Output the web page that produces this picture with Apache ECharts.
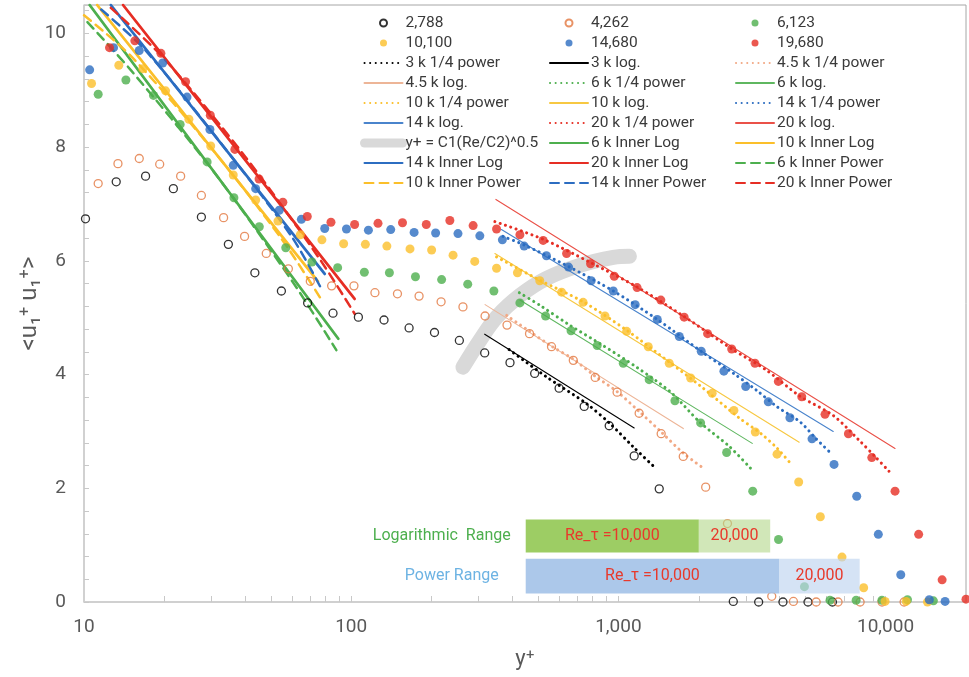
<!DOCTYPE html>
<html><head><meta charset="utf-8">
<script src="https://cdn.jsdelivr.net/npm/echarts@6/dist/echarts.min.js"></script>
<style>html,body{margin:0;padding:0;background:#fff}#c{width:969px;height:677px}</style>
</head><body><div id="c"></div>
<script>
// ---------- axis ticks ----------
const xTickLabels = [10, 100, 1000, 10000];
const xTickValues = [20,30,40,50,60,70,80,90,100,200,300,400,500,600,700,800,900,1000,2000,3000,4000,5000,6000,7000,8000,9000,10000,20000];

// ---------- data points (y+, <u1+u1+>) ----------
const re2788 = [[10.13,6.74],[13.2,7.39],[17.0,7.49],[21.6,7.27],[27.5,6.77],[34.7,6.29],[43.6,5.79],[54.8,5.47],[68.7,5.26],[85.5,5.08],[106.4,5.01],[132.7,4.96],[164.7,4.82],[205,4.74],[254,4.60],[316,4.38],[393,4.21],[486,4.02],[600,3.76],[745,3.44],[924,3.10],[1146,2.57],[1422,1.99],[2692,0.01],[3350,0],[4130,0],[5125,0],[6325,0]];
const re4262 = [[11.3,7.36],[13.4,7.71],[16.1,7.80],[19.2,7.70],[23.0,7.49],[27.5,7.15],[33.3,6.76],[39.9,6.43],[48.1,6.13],[58.2,5.86],[70.3,5.64],[84.5,5.56],[102.4,5.56],[122.7,5.44],[149,5.42],[179.5,5.38],[217,5.28],[262,5.19],[317,5.03],[383,4.87],[465,4.72],[562,4.49],[678,4.25],[819,3.95],[989,3.69],[1196,3.32],[1446,2.96],[1749,2.56],[2122,2.02],[2560,1.38],[3750,0.10],[4520,0.01],[5500,0],[6640,0],[8030,0],[9700,0],[11730,0]];
const re6123 = [[11.3,8.93],[14.35,9.18],[18.2,8.91],[22.9,8.40],[28.9,7.74],[36.4,7.11],[45.3,6.60],[56.9,6.23],[71.3,5.98],[89.0,5.88],[112,5.80],[139,5.79],[174,5.72],[218,5.67],[273,5.59],[342,5.47],[428,5.26],[534,5.03],[665,4.77],[833,4.51],[1043,4.20],[1304,3.91],[1628,3.54],[2032,3.15],[2542,2.63],[3183,1.95],[3975,1.10],[4970,0.27],[6195,0.03],[7760,0.03],[9690,0.03],[12080,0.04],[15100,0.02]];
const re10100 = [[10.67,9.12],[13.5,9.44],[16.6,9.38],[20.2,8.99],[24.7,8.49],[29.8,8.02],[36.2,7.51],[43.9,7.07],[53.2,6.70],[64.5,6.46],[77.7,6.37],[93.7,6.30],[113,6.29],[136,6.26],[166,6.21],[200,6.19],[240.6,6.10],[290,5.99],[350,5.87],[419,5.79],[508,5.65],[613,5.45],[738,5.27],[891,5.03],[1074,4.76],[1294,4.49],[1550,4.20],[1864,3.94],[2244,3.67],[2706,3.37],[3254,2.99],[3925,2.60],[4730,2.11],[5700,1.50],[6870,0.79],[8280,0.25],[9960,0.01],[11940,0.01],[14350,0]];
const re14680 = [[10.5,9.36],[12.9,9.75],[16.1,9.70],[19.7,9.48],[24.3,8.88],[29.6,8.31],[36.2,7.68],[43.9,7.27],[53.8,6.89],[65.1,6.73],[79.6,6.57],[96,6.56],[116,6.54],[140.6,6.55],[172,6.50],[207,6.49],[251,6.48],[303,6.44],[368,6.37],[444,6.26],[538,6.09],[651,5.89],[791,5.65],[957,5.47],[1156,5.23],[1398,4.97],[1690,4.67],[2042,4.41],[2483,4.06],[2996,3.79],[3640,3.52],[4385,3.24],[5305,2.87],[6415,2.42],[7800,1.86],[9395,1.19],[11400,0.48],[14580,0.04],[16700,0.01]];
const re19680 = [[12.46,9.75],[15.5,9.87],[19.4,9.65],[24.0,9.15],[29.7,8.56],[36.7,7.96],[45.2,7.44],[55.5,7.03],[68.5,6.78],[84,6.68],[103,6.64],[126,6.66],[155.6,6.67],[191,6.64],[234,6.71],[286,6.62],[350,6.56],[428,6.46],[523,6.36],[640,6.13],[787,5.95],[965,5.73],[1175,5.53],[1442,5.31],[1763,5.01],[2157,4.72],[2655,4.45],[3245,4.20],[3970,3.88],[4856,3.61],[5935,3.30],[7260,2.96],[8880,2.54],[10850,1.95],[13300,1.19],[16280,0.39],[20000,0.05]];

// ---------- outer fits ----------
const log3k  = [[316,4.71],[1146,3.06]];
const log45k = [[317,5.23],[1750,3.05]];
const log6k  = [[428,5.31],[3170,2.79]];
const log10k = [[345,6.13],[4750,2.81]];
const log14k = [[365,6.55],[6370,3.00]];
const log20k = [[348,7.08],[10850,2.70]];
const pow3k  = [[390,4.44],[538,3.96],[759,3.49],[929,3.14],[1136,2.73],[1381,2.35]];
const pow45k = [[382,5.04],[465,4.76],[562,4.50],[678,4.27],[819,3.97],[989,3.70],[1196,3.35],[1446,2.99],[1749,2.62],[2100,2.34]];
const pow6k  = [[426,5.44],[508,5.22],[657,4.87],[870,4.52],[1170,4.13],[1570,3.69],[2020,3.16],[2610,2.73],[3155,2.33]];
const pow10k = [[350,6.07],[508,5.66],[738,5.28],[1074,4.78],[1550,4.22],[2040,3.79],[2810,3.25],[3420,2.96],[3935,2.70],[4480,2.40]];
const pow14k = [[370,6.43],[444,6.28],[651,5.90],[957,5.47],[1398,4.97],[2110,4.36],[2700,4.02],[3295,3.72],[3935,3.43],[4780,3.17],[5500,2.87],[6300,2.60]];
const pow20k = [[345,6.69],[523,6.38],[787,5.97],[1175,5.54],[1763,5.02],[2700,4.43],[3550,4.09],[4780,3.62],[6370,3.28],[7980,2.84],[9170,2.55],[10300,2.30]];

// ---------- inner fits ----------
const innerLog6k  = [[10.5,10.5],[89.5,4.63]];
const innerLog10k = [[11.2,10.5],[75.1,5.64]];
const innerLog14k = [[12.6,10.5],[79.6,5.77]];
const innerLog20k = [[14.0,10.5],[103,5.33]];
const innerPow6k  = [[10.3,10.2],[15,9.35],[30,7.62],[60,5.65],[88,4.43]];
const innerPow10k = [[10,10.32],[15,9.6],[30,7.98],[55,6.38],[77.3,5.32]];
const innerPow14k = [[11.6,10.42],[17,9.7],[35,7.88],[60,6.42],[77.3,5.51]];
const innerPow20k = [[12.6,10.45],[20,9.55],[40,7.84],[75,6.08],[103,5.07]];

// ---------- y+ = C1(Re/C2)^0.5 ----------
const grayCurve = [[262,4.13],[303,4.60],[350,5.01],[428,5.39],[538,5.69],[718,5.92],[957,6.06],[1100,6.08]];

// ---------- range bars ----------
const rangeNames = ['Logarithmic  Range', 'Power Range'];
const rangeTexts = ['Re_\u03c4 =10,000', '20,000'];
const logRange = [450, 2000, 3700];
const powerRange = [450, 4000, 8000];
const logBand = [0.87, 1.45];
const powerBand = [0.15, 0.76];

// ---------- legend columns ----------
const legendCol1 = ['2,788','10,100','3 k 1/4 power','4.5 k log.','10 k 1/4 power','14 k log.','y+ = C1(Re/C2)^0.5','14 k Inner Log','10 k Inner Power'];
const legendCol2 = ['4,262','14,680','3 k log.','6 k 1/4 power','10 k log.','20 k 1/4 power','6 k Inner Log','20 k Inner Log','14 k Inner Power'];
const legendCol3 = ['6,123','19,680','4.5 k 1/4 power','6 k log.','14 k 1/4 power','20 k log.','10 k Inner Log','6 k Inner Power','20 k Inner Power'];
const scatterNames = ['2,788','4,262','6,123','10,100','14,680','19,680'];

const C = {black:'#000000', orange:'#E2773F', green:'#4DAF4E', yellow:'#FBBF2A', blue:'#2C6DC1', red:'#E62E24'};
const FONT = 'Roboto';

function scat(name, data, color, hollow) {
  return {type:'scatter', name, data, symbol:'circle', symbolSize: hollow ? 8 : 9, z: 4,
    itemStyle: hollow ? {color:'rgba(255,255,255,0)', borderColor: color, borderWidth: 1.3} : {color},
    emphasis:{disabled:true}};
}
function line(name, data, color, width, type, z, smooth) {
  return {type:'line', name, data, symbol:'none', showSymbol:false, smooth: smooth || false, z: z,
    lineStyle:{color, width, type, cap:'round'}, itemStyle:{color}, emphasis:{disabled:true}};
}
const DOT = [0.1, 5.5];
const DASH = [9, 6];

const rangeData = [
  [logRange[0], logRange[1], logBand[0], logBand[1], 0, 0],
  [logRange[1], logRange[2], logBand[0], logBand[1], 1, 0],
  [powerRange[0], powerRange[1], powerBand[0], powerBand[1], 0, 1],
  [powerRange[1], powerRange[2], powerBand[0], powerBand[1], 1, 1]
];
const rangeFill = [['rgba(150,201,88,0.93)','rgba(180,216,140,0.62)'],['rgba(166,196,232,0.93)','rgba(190,212,240,0.65)']];
const rangeNameColor = ['#4DAF4E', '#6DB3E3'];
const rangeNameGap = [15, 27];

const series = [
  line('y+ = C1(Re/C2)^0.5', grayCurve, '#D9D9D9', 15, 'solid', 1, 0.4),
  line('3 k log.', log3k, '#000000', 1.1, 'solid', 2),
  line('4.5 k log.', log45k, '#EDB597', 1.1, 'solid', 2),
  line('6 k log.', log6k, '#5FB760', 1.1, 'solid', 2),
  line('10 k log.', log10k, '#F7C842', 1.1, 'solid', 2),
  line('14 k log.', log14k, '#4A84CC', 1.1, 'solid', 2),
  line('20 k log.', log20k, '#EA5148', 1.1, 'solid', 2),
  line('3 k 1/4 power', pow3k, '#000000', 3, DOT, 3, 0.3),
  line('4.5 k 1/4 power', pow45k, '#F2A985', 3, DOT, 3, 0.3),
  line('6 k 1/4 power', pow6k, C.green, 3, DOT, 3, 0.3),
  line('10 k 1/4 power', pow10k, C.yellow, 3, DOT, 3, 0.3),
  line('14 k 1/4 power', pow14k, C.blue, 3, DOT, 3, 0.3),
  line('20 k 1/4 power', pow20k, C.red, 3, DOT, 3, 0.3),
  line('6 k Inner Log', innerLog6k, C.green, 2.8, 'solid', 3),
  line('10 k Inner Log', innerLog10k, C.yellow, 2.8, 'solid', 3),
  line('14 k Inner Log', innerLog14k, C.blue, 2.8, 'solid', 3),
  line('20 k Inner Log', innerLog20k, C.red, 2.8, 'solid', 3),
  line('6 k Inner Power', innerPow6k, C.green, 2.5, DASH, 3, 0.3),
  line('10 k Inner Power', innerPow10k, C.yellow, 2.5, DASH, 3, 0.3),
  line('14 k Inner Power', innerPow14k, C.blue, 2.5, DASH, 3, 0.3),
  line('20 k Inner Power', innerPow20k, C.red, 2.5, DASH, 3, 0.3),
  scat('2,788', re2788, C.black, true),
  scat('4,262', re4262, C.orange, true),
  scat('6,123', re6123, C.green, false),
  scat('10,100', re10100, C.yellow, false),
  scat('14,680', re14680, C.blue, false),
  scat('19,680', re19680, C.red, false),
  {
    type:'custom', name:'ranges', data: rangeData, z: 10, silent: true,
    encode:{x:[0,1], y:[2,3]},
    renderItem: function(params, api) {
      const a = api.coord([api.value(0), api.value(3)]);
      const b = api.coord([api.value(1), api.value(2)]);
      const seg = api.value(4), row = api.value(5);
      const children = [{
        type:'rect', shape:{x:a[0], y:a[1], width:b[0]-a[0], height:b[1]-a[1]},
        style:{fill: rangeFill[row][seg]},
        textContent:{style:{text: rangeTexts[seg], fill:'#E8392B', font:'16px ' + FONT}},
        textConfig:{position:'inside'}
      }];
      if (seg === 0) {
        children.push({type:'text', x: a[0] - rangeNameGap[row], y: (a[1]+b[1])/2,
          style:{text: rangeNames[row], fill: rangeNameColor[row], font:'16px ' + FONT, align:'right', verticalAlign:'middle'}});
      }
      return {type:'group', children};
    }
  }
];

function legendItem(n) {
  if (n.indexOf('y+ =') === 0) return {name:n, lineStyle:{width:9}, itemStyle:{opacity:0}};
  if (scatterNames.indexOf(n) >= 0) return {name:n};
  return {name:n, itemStyle:{opacity:0}};
}
function legendCol(list, left) {
  return {
    orient:'vertical', left: left, top: 13, itemWidth: 38, itemHeight: 7, itemGap: 0,
    selectedMode: false, padding: 0,
    textStyle:{fontFamily: FONT, fontSize: 15.5, color:'#3A3A3A', lineHeight: 20, padding:[0,0,0,-2]},
    data: list.map(legendItem)
  };
}

const chart = echarts.init(document.getElementById('c'), null, {renderer:'canvas'});
chart.setOption({
  animation: false,
  backgroundColor: '#ffffff',
  textStyle:{fontFamily: FONT},
  grid:{left:84, right:3, top:5, bottom:75, show:true, borderColor:'#A6A6A6', borderWidth:1,
        backgroundColor:'rgba(0,0,0,0)', containLabel:false, outerBoundsMode:'none'},
  legend:[legendCol(legendCol1, 360), legendCol(legendCol2, 549), legendCol(legendCol3, 735)],
  xAxis:{
    type:'log', logBase:10, min:10, max:20000,
    name:'y\u207a', nameLocation:'middle', nameGap:46, nameMoveOverlap:false,
    nameTextStyle:{fontSize:22, color:'#595959', fontFamily: FONT},
    axisLine:{show:true, lineStyle:{color:'#D0D0D0', width:1.5}},
    axisTick:{show:true, inside:true, length:6, customValues: xTickValues, lineStyle:{color:'#C8C8C8'}},
    minorTick:{show:false},
    splitLine:{show:false},
    axisLabel:{customValues: xTickLabels, fontSize:19, color:'#595959', margin:16,
      formatter: v => Number(v).toLocaleString('en-US')}
  },
  yAxis:{
    type:'value', min:0, max:10.5, interval:2,
    name:'<u\u2081\u207a u\u2081\u207a>', nameLocation:'middle', nameGap:42, nameRotate:90, nameMoveOverlap:false,
    nameTextStyle:{fontSize:24, color:'#595959', fontFamily: FONT},
    axisLine:{show:true, lineStyle:{color:'#D0D0D0', width:1.5}},
    axisTick:{show:true, inside:true, length:5, lineStyle:{color:'#C8C8C8'}},
    minorTick:{show:true, splitNumber:5, length:5, lineStyle:{color:'#C8C8C8'}},
    splitLine:{show:false},
    axisLabel:{fontSize:19, color:'#595959', margin:18, showMaxLabel:false}
  },
  series: series
});
</script>
</body></html>
